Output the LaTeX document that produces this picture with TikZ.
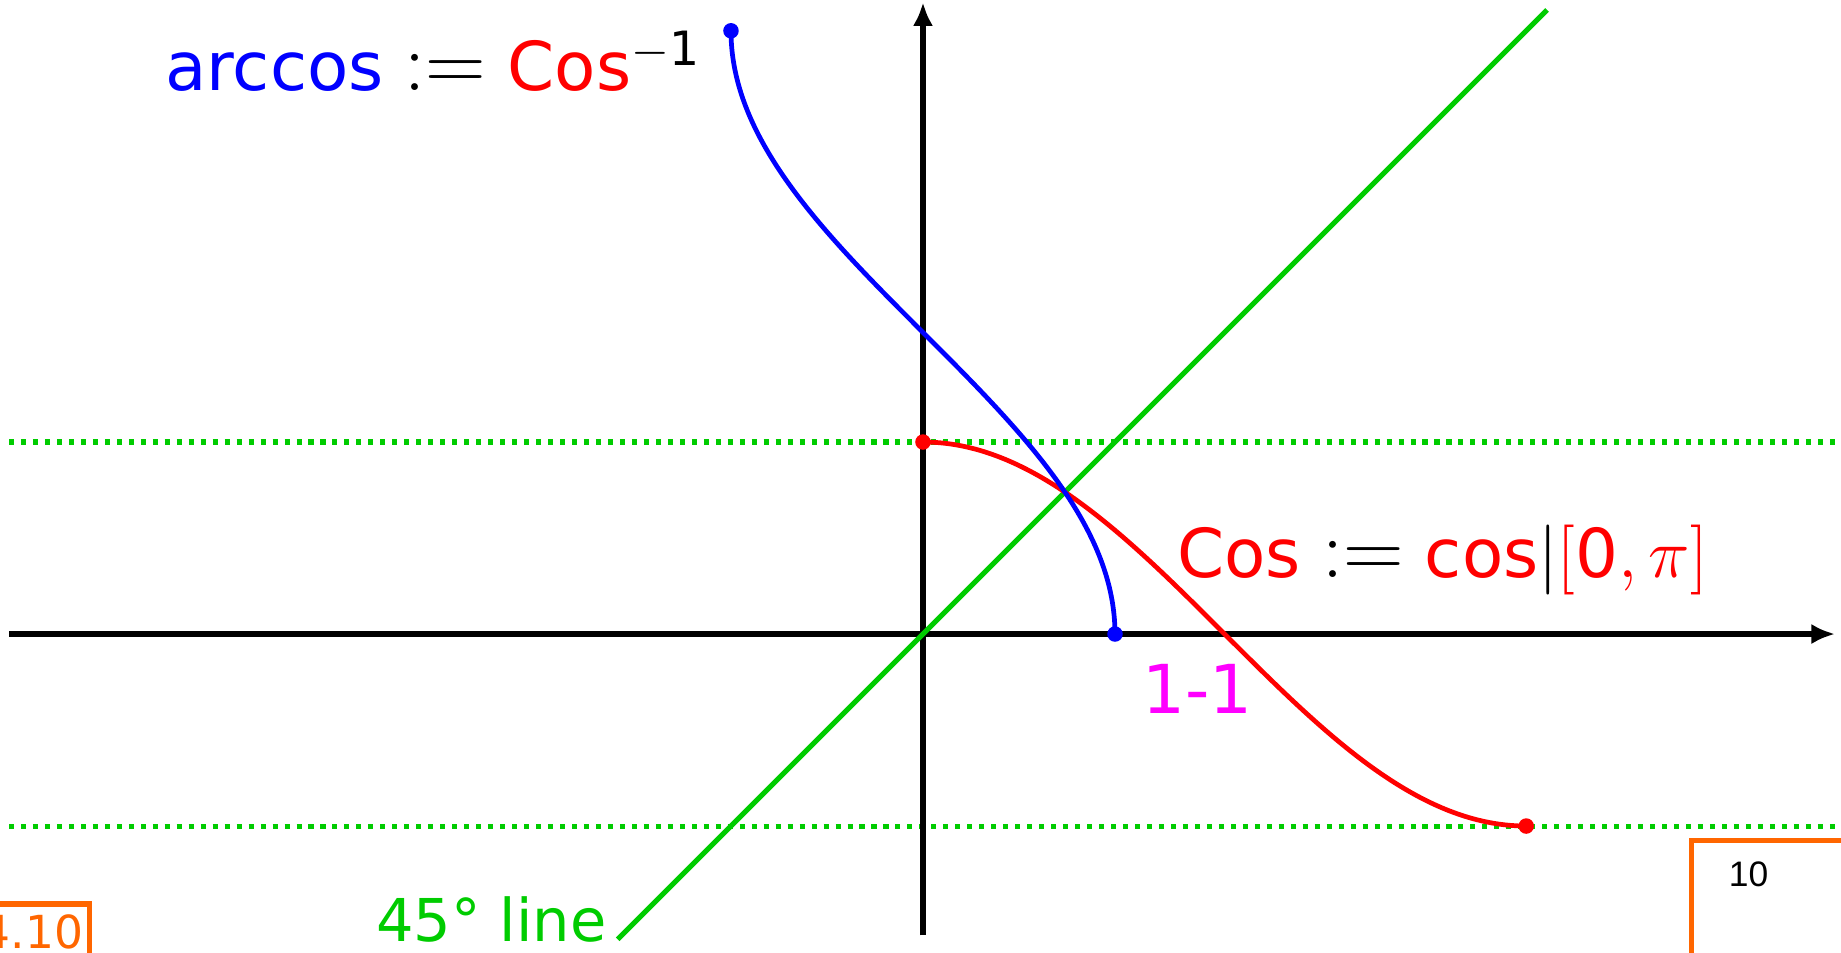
\documentclass[tikz,border=0pt]{standalone}
\usepackage{amsmath}
\usepackage{fontspec}
\setmainfont{DejaVu Sans}
\newfontfamily\pagenumfont{Liberation Sans}
\usetikzlibrary{arrows.meta}
\definecolor{lgreen}{RGB}{0,204,0}
\definecolor{pmagenta}{RGB}{255,0,255}
\definecolor{slideorange}{RGB}{255,102,0}
\newcommand{\defeq}{{\fontsize{24}{28}\selectfont$:=$}}

\begin{document}
\begin{tikzpicture}[x=2cm, y=2cm, >={Latex[length=7pt,width=6pt]},
  lbl/.style={font=\fontsize{20}{24}\selectfont, inner sep=0pt},
  enddot/.style={circle, fill, inner sep=0pt, minimum size=4.6pt},
  levelline/.style={lgreen, line width=1.5pt, dash pattern=on 1.5pt off 2.05pt}]
  \useasboundingbox (-4.807,-1.661) rectangle (4.781,3.302);
  \clip (-4.807,-1.661) rectangle (4.781,3.302);
  % the levels y=1 and y=-1
  \draw[levelline] (-4.76,1) -- (4.76,1);
  \draw[levelline] (-4.76,-1) -- (4.76,-1);
  % axes
  \draw[->, line width=1.75pt] (-4.76,0) -- (4.75,0);
  \draw[->, line width=1.75pt] (0,-1.57) -- (0,3.29);
  % 45 degree line
  \coordinate (diagA) at (-1.59,-1.59);
  \coordinate (diagB) at (3.25,3.25);
  \draw[lgreen, line width=1.5pt] (diagA) -- (diagB);
  % Cos and arccos
  \draw[red, line width=1.4pt, domain=0:pi, samples=80, smooth] plot (\x,{cos(\x r)});
  \draw[blue, line width=1.4pt, domain=0:pi, samples=80, smooth] plot ({cos(\x r)},\x);
  \node[enddot, red] (cosA) at (0,1) {};
  \node[enddot, red] (cosB) at (pi,-1) {};
  \node[enddot, blue] (acosA) at (-1,pi) {};
  \node[enddot, blue] (acosB) at (1,0) {};
  % labels
  \node[lbl, anchor=base west] (acoslbl) at (-3.95,2.83)
    {{\color{blue}arccos} \defeq{} {\color{red}Cos}$^{-\text{1}}$};
  \node[lbl, anchor=base west] (coslbl) at (1.32,0.294)
    {{\color{red}Cos} \defeq{} {\color{red}cos}$|${\color{red}$[\text{0},\pi]$}};
  \node[lbl, anchor=base west, text=pmagenta] (onelbl) at (1.14,-0.416) {1-1};
  \node[lbl, anchor=base west, text=lgreen, font=\fontsize{17.5}{21}\selectfont]
    (diaglbl) at (-2.85,-1.60) {45° line};
  % slide boxes
  \draw[slideorange, line width=1.5pt] (-5,-2) rectangle (-4.339,-1.406);
  \node[anchor=base east, inner sep=0pt, text=slideorange,
    font=\fontsize{13.5}{16}\selectfont] (seclbl) at (-4.37,-1.64) {4.10};
  \draw[slideorange, line width=1.5pt] (4.0,-2) rectangle (5,-1.076);
  \node[inner sep=0pt, font=\pagenumfont\fontsize{10.5}{12}\selectfont] (pagelbl) at (4.30,-1.25) {10};
\end{tikzpicture}
\end{document}
